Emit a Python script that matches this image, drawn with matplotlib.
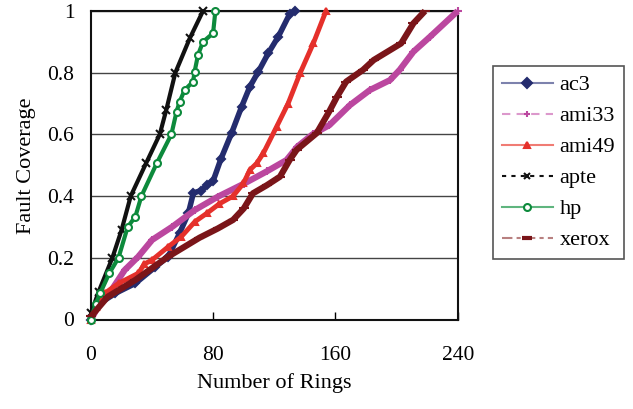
import matplotlib
matplotlib.use("Agg")
import matplotlib.pyplot as plt
from matplotlib.lines import Line2D

plt.rcParams['font.family'] = ['Liberation Serif', 'DejaVu Serif']

# ---- data ----
ac3_x = [0, 5, 16, 29, 42, 50.6, 58, 63.7, 67, 72, 76, 80, 85, 92, 98.6, 104, 109.5, 116, 122.6, 130, 133.5]
ac3_y = [0, 0.05, 0.085, 0.117, 0.17, 0.204, 0.28, 0.344, 0.41, 0.418, 0.435, 0.45, 0.52, 0.604, 0.69, 0.755, 0.803, 0.863, 0.917, 0.99, 1.0]

ami33_x = [0, 7, 13.5, 22, 31, 40, 53, 68, 83, 100, 115, 128, 135, 145, 156, 169.5, 182.6, 195.7, 202, 211, 222, 240]
ami33_y = [0, 0.063, 0.096, 0.16, 0.204, 0.258, 0.30, 0.355, 0.398, 0.44, 0.48, 0.517, 0.56, 0.6, 0.63, 0.695, 0.744, 0.776, 0.809, 0.868, 0.917, 1.0]

ami49_x = [0, 3, 9, 18, 31, 35, 40, 50.6, 59, 68, 76, 84, 93, 99.7, 104, 108.4, 112.8, 121.5, 129, 136.8, 145.5, 153.8]
ami49_y = [0, 0.04, 0.085, 0.117, 0.15, 0.18, 0.193, 0.236, 0.268, 0.317, 0.345, 0.375, 0.40, 0.441, 0.485, 0.506, 0.539, 0.625, 0.70, 0.798, 0.895, 1.0]

apte_x = [0, 5, 14, 20, 26, 36, 45, 49.3, 55.2, 64.6, 73.3]
apte_y = [0.02, 0.09, 0.2, 0.29, 0.4, 0.506, 0.6, 0.68, 0.8, 0.911, 1.0]

hp_x = [0, 3, 6, 12, 18, 24, 29, 33, 43, 52.6, 56, 58, 61.3, 66.8, 67.8, 70, 73.3, 79.9, 81.4]
hp_y = [0, 0.05, 0.085, 0.15, 0.2, 0.3, 0.333, 0.4, 0.506, 0.6, 0.674, 0.706, 0.744, 0.771, 0.803, 0.857, 0.90, 0.928, 1.0]

xerox_x = [0, 11, 29, 50.6, 71, 83, 93, 100, 106, 115, 123.7, 130, 134.6, 147.7, 156, 161, 167, 178, 185, 203, 211, 218.6]
xerox_y = [0.01, 0.074, 0.128, 0.204, 0.265, 0.295, 0.323, 0.36, 0.409, 0.435, 0.463, 0.517, 0.55, 0.604, 0.675, 0.722, 0.771, 0.809, 0.841, 0.895, 0.96, 1.0]

names = ['ac3', 'ami33', 'ami49', 'apte', 'hp', 'xerox']
xticks = [0, 80, 160, 240]
yticks = [0, 0.2, 0.4, 0.6, 0.8, 1.0]
ytick_labels = ['0', '0.2', '0.4', '0.6', '0.8', '1']

series = [
    dict(x=ac3_x, y=ac3_y, color='#242c6e', marker='D', ms=4, mfc='#242c6e', lw=4.0,
         lcol='#7d82ad', ls='-'),
    dict(x=ami33_x, y=ami33_y, color='#bb479f', marker='+', ms=6, mfc='#bb479f', lw=4.5,
         lcol='#dc98cc', ls=(0, (4, 3))),
    dict(x=ami49_x, y=ami49_y, color='#e5302b', marker='^', ms=4, mfc='#e5302b', lw=3.5,
         lcol='#f07c74', ls='-'),
    dict(x=apte_x, y=apte_y, color='#111111', marker='x', ms=6, mfc='#111111', lw=3.0,
         lcol='#111111', ls=(0, (2, 2.5))),
    dict(x=hp_x, y=hp_y, color='#0d8a3c', marker='o', ms=5, mfc='white', lw=3.0,
         lcol='#5fb57e', ls='-'),
    dict(x=xerox_x, y=xerox_y, color='#7a1519', marker='_', ms=7, mfc='#7a1519', lw=4.5,
         lcol='#b88080', ls=(0, (5, 2, 2, 2))),
]

fig = plt.figure(figsize=(6.33, 4.09), dpi=100)
ax = fig.add_axes([91 / 633, 1 - 319.5 / 409, (457.7 - 91) / 633, (319.5 - 11) / 409])

for yv in yticks[1:]:
    ax.axhline(yv, color='#444444', lw=1.0, zorder=1)

handles = []
for name, s in zip(names, series):
    ax.plot(s['x'], s['y'], color=s['color'], lw=s['lw'], solid_capstyle='butt',
            marker=s['marker'], ms=s['ms'], mfc=s['mfc'], mec=s['color'], mew=1.5,
            zorder=3, clip_on=False)
    handles.append(Line2D([0], [0], color=s['lcol'], lw=1.5, ls=s['ls'],
                          marker=s['marker'], ms=5 if s['marker'] != '_' else 7,
                          mfc=s['mfc'], mec=s['color'],
                          mew=1.5 if s['marker'] != '_' else 3))

ax.set_xlim(0, 240)
ax.set_ylim(0, 1)
ax.set_xticks(xticks)
ax.set_xticklabels([str(v) for v in xticks])
ax.set_yticks(yticks)
ax.set_yticklabels(ytick_labels)
ax.tick_params(axis='x', direction='in', length=6, width=1, pad=19, labelsize=15.5)
ax.tick_params(axis='y', direction='in', length=0, pad=12, labelsize=15.5)
for sp in ax.spines.values():
    sp.set_linewidth(1.5)
    sp.set_color('#111111')

ax.set_xlabel('Number of Rings', fontsize=16, labelpad=6)
ax.set_ylabel('Fault Coverage', fontsize=16, labelpad=8)

leg = fig.legend(handles, names, loc='upper left', bbox_to_anchor=(493 / 633, 1 - 66 / 409),
                 borderaxespad=0, fontsize=16, handlelength=2.3, handletextpad=0.3,
                 labelspacing=0.47, borderpad=0.4, fancybox=False, framealpha=1)
leg.get_frame().set_edgecolor('#555555')
leg.get_frame().set_linewidth(1.2)

fig.savefig('out.png', dpi=100)
